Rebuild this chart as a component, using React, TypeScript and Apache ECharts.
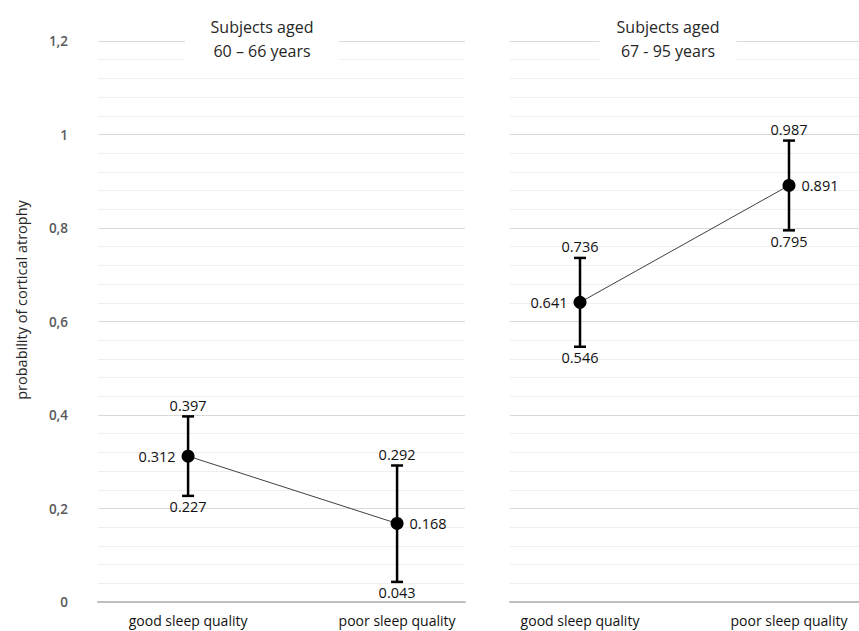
import React, { useEffect, useRef } from "react";
import * as echarts from "echarts";

const categories = ["good sleep quality", "poor sleep quality"];
const youngMean = [0.312, 0.168];
const youngLow = [0.227, 0.043];
const youngHigh = [0.397, 0.292];
const oldMean = [0.641, 0.891];
const oldLow = [0.546, 0.795];
const oldHigh = [0.736, 0.987];
const panelTitles = ["Subjects aged\n60 – 66 years", "Subjects aged\n67 - 95 years"];
const yAxisName = "probability of cortical atrophy";

const FONT = "'Open Sans', 'Noto Sans', sans-serif";

function fmt3(v: number) {
  return v.toFixed(3);
}

export default function App() {
  const ref = useRef<HTMLDivElement>(null);
  useEffect(() => {
    if (!ref.current) return;
    const chart = echarts.init(ref.current, null, { renderer: "svg" });

    const grids = [
      { left: 98, top: 41, width: 367, height: 561 },
      { left: 510, top: 41, width: 349, height: 561 },
    ];
    const xRanges = [
      [-0.431, 1.325],
      [-0.335, 1.335],
    ];

    const labelStyle = {
      color: "#111",
      fontSize: 14.5,
      fontFamily: FONT,
      fontWeight: "normal" as const,
      textBorderWidth: 0,
      opacity: 1,
    };

    const makeX = (i: number) => ({
      type: "value",
      gridIndex: i,
      min: xRanges[i][0],
      max: xRanges[i][1],
      splitLine: { show: false },
      axisTick: { show: false },
      axisLine: { show: true, lineStyle: { color: "#bfbfbf", width: 2 } },
      axisLabel: {
        customValues: [0, 1],
        formatter: (v: number) => categories[Math.round(v)] ?? "",
        color: "#111",
        fontSize: 14,
        fontFamily: FONT,
        margin: 11,
      },
    });

    const makeY = (i: number) => ({
      type: "value",
      gridIndex: i,
      min: 0,
      max: 1.2,
      interval: 0.2,
      axisLine: { show: false },
      axisTick: { show: false },
      axisLabel: {
        show: i === 0,
        formatter: (v: number) => String(Number(v.toFixed(1))).replace(".", ","),
        color: "#595959",
        fontSize: 13.5,
        fontWeight: 600,
        fontFamily: FONT,
        margin: 30,
      },
      splitLine: { show: true, lineStyle: { color: "#d9d9d9", width: 1 } },
      minorTick: { show: false, splitNumber: 5 },
      minorSplitLine: { show: true, lineStyle: { color: "#efefef", width: 1 } },
    });

    const panels = [
      { mean: youngMean, low: youngLow, high: youngHigh },
      { mean: oldMean, low: oldLow, high: oldHigh },
    ];

    const series: any[] = [];
    panels.forEach((p, i) => {
      series.push({
        type: "custom",
        xAxisIndex: i,
        yAxisIndex: i,
        z: 2,
        data: p.mean.map((_, k) => [k, p.low[k], p.high[k]]),
        encode: { x: 0, y: [1, 2] },
        renderItem: (params: any, api: any) => {
          const x = api.value(0);
          const lo = api.coord([x, api.value(1)]);
          const hi = api.coord([x, api.value(2)]);
          const cap = 6;
          const st = { stroke: "#000", lineWidth: 2.5 };
          return {
            type: "group",
            children: [
              { type: "line", shape: { x1: lo[0], y1: lo[1], x2: hi[0], y2: hi[1] }, style: st },
              { type: "line", shape: { x1: lo[0] - cap, y1: lo[1], x2: lo[0] + cap, y2: lo[1] }, style: st },
              { type: "line", shape: { x1: hi[0] - cap, y1: hi[1], x2: hi[0] + cap, y2: hi[1] }, style: st },
            ],
          };
        },
      });
      series.push({
        type: "line",
        xAxisIndex: i,
        yAxisIndex: i,
        z: 3,
        symbol: "circle",
        symbolSize: 13,
        itemStyle: { color: "#000" },
        lineStyle: { color: "#404040", width: 1 },
        emphasis: { disabled: true },
        data: p.mean.map((v, k) => ({
          value: [k, v],
          label: {
            show: true,
            position: k === 0 ? "left" : "right",
            distance: 6,
            formatter: () => fmt3(v),
            ...labelStyle,
          },
        })),
      });
      ["high", "low"].forEach((key) => {
        const arr = key === "high" ? p.high : p.low;
        series.push({
          type: "scatter",
          xAxisIndex: i,
          yAxisIndex: i,
          z: 4,
          symbolSize: 1,
          silent: true,
          itemStyle: { opacity: 1, color: "rgba(0,0,0,0)" },
          data: arr.map((v, k) => [k, v]),
          label: {
            show: true,
            position: key === "high" ? "top" : "bottom",
            distance: 3,
            formatter: (d: any) => fmt3(d.value[1]),
            ...labelStyle,
          },
        });
      });
    });

    const titleCenters = [262, 668];
    const titleWidths = [154, 137];
    const graphic: any[] = [];
    titleCenters.forEach((cx, i) => {
      graphic.push({
        type: "rect",
        z: 50,
        shape: { x: cx - titleWidths[i] / 2, y: 12, width: titleWidths[i], height: 56 },
        style: { fill: "#fff" },
      });
      graphic.push({
        type: "text",
        z: 51,
        x: cx,
        y: 39,
        style: {
          text: panelTitles[i],
          textAlign: "center",
          textVerticalAlign: "middle",
          fill: "#262626",
          font: `16px ${FONT}`,
          lineHeight: 24,
        },
      });
    });
    graphic.push({
      type: "text",
      z: 51,
      x: 21,
      y: 300,
      rotation: Math.PI / 2,
      style: {
        text: yAxisName,
        textAlign: "center",
        textVerticalAlign: "middle",
        fill: "#262626",
        font: `14.5px ${FONT}`,
      },
    });

    chart.setOption({
      animation: false,
      backgroundColor: "#fff",
      grid: grids,
      xAxis: [makeX(0), makeX(1)],
      yAxis: [makeY(0), makeY(1)],
      series,
      graphic,
    });
    return () => chart.dispose();
  }, []);

  return (
    <div
      ref={ref}
      style={{ position: "fixed", left: 0, top: 0, width: 859, height: 631, background: "#fff" }}
    />
  );
}
